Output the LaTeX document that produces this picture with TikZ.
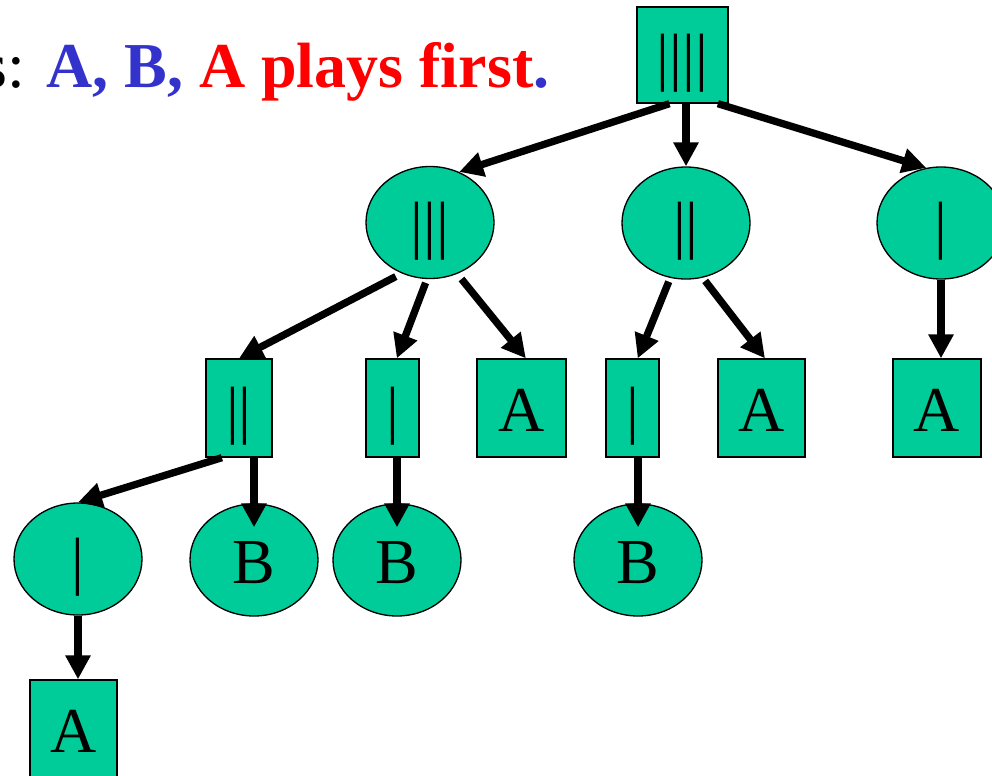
\documentclass[tikz,border=0pt]{standalone}
\usepackage{fontspec}
\setmainfont{Liberation Serif}
\usetikzlibrary{arrows.meta,shapes.geometric}

\definecolor{nimgreen}{RGB}{0,204,153}
\definecolor{pblue}{RGB}{51,51,204}
\definecolor{pred}{RGB}{255,0,0}

\tikzset{
  gamepos/.style={draw=black,line width=1pt,fill=nimgreen,inner sep=0pt,
    font=\fontsize{48pt}{58pt}\selectfont,text height=43pt,text depth=7.5pt},
  sq/.style={gamepos,rectangle,minimum height=73.5pt},
  oval/.style={gamepos,ellipse,minimum width=96pt,minimum height=84pt},
  play/.style={-{Triangle[length=18pt,width=18pt]},line width=5.5pt,black},
}

\begin{document}
\begin{tikzpicture}[x=0.75pt,y=0.75pt,yscale=-1,xscale=1]
\useasboundingbox (0,0) rectangle (992,775);

% Text Node
\node [anchor=base west,inner sep=0pt,font=\fontsize{48pt}{58pt}\selectfont] (title) at (-18,87)
  {s: \textcolor{pblue}{\textbf{A, B,}} \textcolor{pred}{\textbf{A plays first}}\textcolor{pblue}{\textbf{.}}};

% root: four matches, A to move
\node [sq,minimum width=68.25pt,minimum height=72pt] (root) at (682.5,55) {||||};

% B to move
\node [oval] (l1a) at (430,222.5) {|||};
\node [oval] (l1b) at (686,223) {||};
\node [oval] (l1c) at (941,223) {|};

% A to move
\node [sq,minimum width=49.5pt] (l2a) at (239,408) {||};
\node [sq,minimum width=39.75pt] (l2b) at (392.5,408) {|};
\node [sq,minimum width=66.75pt] (l2c) at (521.5,408) {A};
\node [sq,minimum width=39.75pt] (l2d) at (632.5,408) {|};
\node [sq,minimum width=65.25pt] (l2e) at (761.5,408) {A};
\node [sq,minimum width=66pt] (l2f) at (937,408) {A};

% B to move
\node [oval] (l3a) at (78,559) {|};
\node [oval] (l3b) at (254,560) {B};
\node [oval] (l3c) at (397,560) {B};
\node [oval] (l3d) at (638,560) {B};

% A to move
\node [sq,minimum width=65.25pt] (l4) at (73.5,729) {A};

% moves
\draw [play] (root.-105) -- (l1a.60);
\draw [play] (l1b.north |- root.south) -- (l1b.north);
\draw [play] (root.-54) -- (l1c.105);

\draw [play,shorten <=5pt] (l1a.-119) -- (l2a.north);
\draw [play,shorten <=3pt] (l1a.-93) -- (l2b.85);
\draw [play,shorten <=5pt] (l1a.-62) -- (l2c.85);
\draw [play,shorten <=3pt] (l1b.-106) -- (l2d.84);
\draw [play,shorten <=3pt] (l1b.-73) -- (l2e.86);
\draw [play] (l1c.south) -- (l1c.south |- l2f.north);

\draw [play] (l2a.-109) -- (l3a.north);
\draw [play,shorten >=-18pt] (l3b.north |- l2a.south) -- (l3b.north);
\draw [play,shorten >=-18pt] (l3c.north |- l2b.south) -- (l3c.north);
\draw [play,shorten >=-18pt] (l3d.north |- l2d.south) -- (l3d.north);

\draw [play] (l3a.south) -- (l3a.south |- l4.north);

\end{tikzpicture}
\end{document}
